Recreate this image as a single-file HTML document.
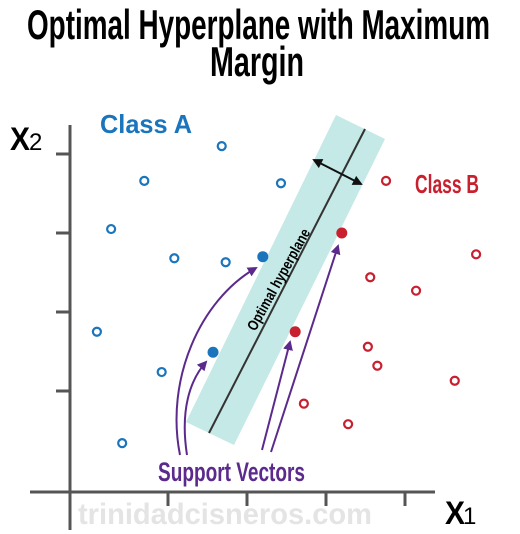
<!DOCTYPE html>
<html><head><meta charset="utf-8"><style>
html,body{margin:0;padding:0;background:#fff;}
svg{display:block;font-family:"Liberation Sans",sans-serif;}
</style></head><body>
<svg id="chart" width="520" height="534" viewBox="0 0 520 534">
<text x="27" y="39" font-size="42" font-weight="bold" textLength="463" lengthAdjust="spacingAndGlyphs">Optimal Hyperplane with Maximum</text>
<text x="210" y="76" font-size="42" font-weight="bold" textLength="94" lengthAdjust="spacingAndGlyphs">Margin</text>
<text x="78" y="524" font-size="30" font-weight="bold" fill="#e4e4e4" textLength="294" lengthAdjust="spacingAndGlyphs">trinidadcisneros.com</text>
<g id="axes"></g>
<polygon points="336,115 385,139 234,445 186,422" fill="#c4e9e6"/>
<line x1="365" y1="129" x2="209" y2="433" stroke="#333" stroke-width="2"/>
<text transform="translate(283,282) rotate(-61)" font-size="15" font-weight="bold" text-anchor="middle" textLength="114" lengthAdjust="spacingAndGlyphs">Optimal hyperplane</text>
<defs>
<marker id="ah" viewBox="0 0 10 10" refX="8" refY="5" markerWidth="5" markerHeight="5" orient="auto-start-reverse"><path d="M0,0 L10,5 L0,10 z" fill="#111"/></marker>
<marker id="ap" viewBox="0 0 10 10" refX="8" refY="5" markerWidth="5" markerHeight="5" orient="auto"><path d="M0,0 L10,5 L0,10 z" fill="#5b2a8c"/></marker>
</defs>
<line x1="314" y1="160" x2="361" y2="184" stroke="#111" stroke-width="2" marker-start="url(#ah)" marker-end="url(#ah)"/>
<g fill="none" stroke="#5b2a8c" stroke-width="2">
<path d="M180,455 C165,380 200,300 256,268" marker-end="url(#ap)"/>
<path d="M187,455 C180,410 190,380 206,362" marker-end="url(#ap)"/>
<path d="M262,450 L290,342" marker-end="url(#ap)"/>
<path d="M271,452 L338,246" marker-end="url(#ap)"/>
</g>
<g id="points"></g>
<text x="10" y="150" font-size="32" font-weight="bold" textLength="20" lengthAdjust="spacingAndGlyphs">X</text>
<text x="29" y="150" font-size="24">2</text>
<text x="445" y="524" font-size="32" font-weight="bold" textLength="20" lengthAdjust="spacingAndGlyphs">X</text>
<text x="463" y="524" font-size="24">1</text>
<text x="100" y="133" font-size="26" font-weight="bold" fill="#1a75bc" textLength="92" lengthAdjust="spacingAndGlyphs">Class A</text>
<text x="415" y="193" font-size="26" font-weight="bold" fill="#c8202f" textLength="64" lengthAdjust="spacingAndGlyphs">Class B</text>
<text x="158" y="481" font-size="27" font-weight="bold" fill="#5b2a8c" textLength="147" lengthAdjust="spacingAndGlyphs">Support Vectors</text>
</svg>
<script>
const aX=[1.68,0.70,0.28,1.08,1.73,2.43,0.10,0.92,0.42];
const aY=[4.10,3.66,3.05,2.68,2.63,3.63,1.75,1.24,0.34];
const svAX=[1.57,2.20];
const svAY=[1.49,2.70];
const bX=[3.76,4.90,3.56,4.14,3.53,3.65,4.63,2.72,3.28];
const bY=[3.66,2.73,2.44,2.27,1.56,1.32,1.13,0.84,0.58];
const svBX=[3.20,2.61];
const svBY=[3.00,1.75];
const ticks=[1,2,3,4];
const NS="http://www.w3.org/2000/svg";
const axX=70, axY=492, x0=89, y0=470, u=79;
const sx=v=>x0+v*u, sy=v=>y0-v*u;
const axes=document.getElementById('axes');
function mk(tag,attrs,parent){const e=document.createElementNS(NS,tag);for(const k in attrs)e.setAttribute(k,attrs[k]);parent.appendChild(e);return e;}
let yl=mk('line',{x1:axX,y1:125,x2:axX,y2:530,stroke:'#555','stroke-width':3},axes);


let xl=mk('line',{x1:30,y1:axY,x2:435,y2:axY,stroke:'#555','stroke-width':3},axes);


ticks.forEach(t=>{
  let a=mk('line',{x1:sx(t),y1:axY,x2:sx(t),y2:axY+14,stroke:'#555','stroke-width':3},axes);
  
  
  let b=mk('line',{x1:axX-14,y1:sy(t),x2:axX,y2:sy(t),stroke:'#555','stroke-width':3},axes);
  
  
});
const pts=document.getElementById('points');
function draw(xs,ys,col,filled,name){
  xs.forEach((x,i)=>{
    let c=mk('circle',filled?{cx:sx(x),cy:sy(ys[i]),r:5.5,fill:col}:{cx:sx(x),cy:sy(ys[i]),r:4,fill:'#fff',stroke:col,'stroke-width':2.2},pts);
    
    
  });
}
draw(aX,aY,'#1a75bc',false,'class-a-point');
draw(svAX,svAY,'#1a75bc',true,'class-a-support-vector');
draw(bX,bY,'#c8202f',false,'class-b-point');
draw(svBX,svBY,'#c8202f',true,'class-b-support-vector');
</script>
</body></html>
